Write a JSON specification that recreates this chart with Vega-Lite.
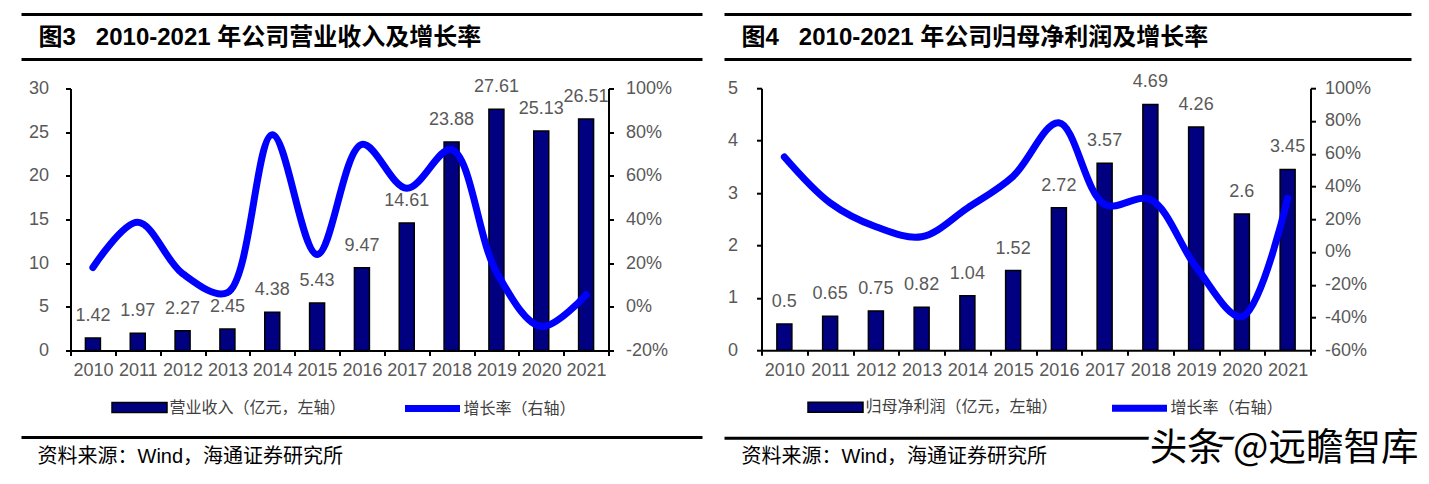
{
  "$schema": "https://vega.github.io/schema/vega-lite/v6.json",
  "padding": {"left": 19.5, "top": 12.5, "right": 0, "bottom": 0},
  "background": "white",
  "config": {
    "view": {"stroke": null},
    "font": "Liberation Sans",
    "axis": {"grid": false, "domainColor": "black", "domainWidth": 2, "tickColor": "black", "tickWidth": 2, "tickSize": 5, "labelFont": "Liberation Sans", "labelFontSize": 18, "labelColor": "#595959", "title": null},
    "legend": {"labelLimit": 500}
  },
  "datasets": {
    "rev": [
      {"year": "2010", "rev": 1.42, "g": 0.18},
      {"year": "2011", "rev": 1.97, "g": 0.387},
      {"year": "2012", "rev": 2.27, "g": 0.152},
      {"year": "2013", "rev": 2.45, "g": 0.065},
      {"year": "2014", "rev": 4.38, "g": 0.788},
      {"year": "2015", "rev": 5.43, "g": 0.24},
      {"year": "2016", "rev": 9.47, "g": 0.744},
      {"year": "2017", "rev": 14.61, "g": 0.543},
      {"year": "2018", "rev": 23.88, "g": 0.72},
      {"year": "2019", "rev": 27.61, "g": 0.16},
      {"year": "2020", "rev": 25.13, "g": -0.09},
      {"year": "2021", "rev": 26.51, "g": 0.055}
    ],
    "np": [
      {"year": "2010", "np": 0.5, "g": 0.58},
      {"year": "2011", "np": 0.65, "g": 0.30},
      {"year": "2012", "np": 0.75, "g": 0.154},
      {"year": "2013", "np": 0.82, "g": 0.093},
      {"year": "2014", "np": 1.04, "g": 0.268},
      {"year": "2015", "np": 1.52, "g": 0.462},
      {"year": "2016", "np": 2.72, "g": 0.789},
      {"year": "2017", "np": 3.57, "g": 0.29},
      {"year": "2018", "np": 4.69, "g": 0.32},
      {"year": "2019", "np": 4.26, "g": -0.092},
      {"year": "2020", "np": 2.6, "g": -0.395},
      {"year": "2021", "np": 3.45, "g": 0.327}
    ],
    "headL": [{"title": "图3\u00a0\u00a0\u00a02010-2021 年公司营业收入及增长率"}],
    "headR": [{"title": "图4\u00a0\u00a0\u00a02010-2021 年公司归母净利润及增长率"}],
    "footL": [{"src": "资料来源：Wind，海通证券研究所"}],
    "footR": [{"src": "资料来源：Wind，海通证券研究所", "wm": "头条 @远瞻智库"}]
  },
  "spacing": 18,
  "resolve": {"scale": {"fill": "independent", "stroke": "independent"}},
  "hconcat": [
    {
      "spacing": 12,
      "resolve": {"scale": {"fill": "independent", "stroke": "independent"}},
      "vconcat": [
        {
          "width": 538, "height": 50.9,
          "data": {"name": "headL"},
          "encoding": {
            "x": {"datum": -49, "type": "quantitative", "scale": {"domain": [0, 538], "nice": false, "zero": false}, "axis": null},
            "y": {"datum": 0, "type": "quantitative", "scale": {"domain": [0, 50.9], "reverse": true, "nice": false, "zero": false}, "axis": null}
          },
          "layer": [
            {"mark": {"type": "rule", "color": "black", "strokeWidth": 3},
             "encoding": {"x2": {"datum": 632}}},
            {"mark": {"type": "rule", "color": "black", "strokeWidth": 3},
             "encoding": {"x2": {"datum": 632}, "y": {"datum": 45, "type": "quantitative"}}},
            {"mark": {"type": "text", "align": "left", "baseline": "middle", "font": "Liberation Sans, Noto Sans CJK SC", "fontSize": 24, "fontWeight": "bold", "color": "black"},
             "encoding": {"x": {"datum": -32, "type": "quantitative"}, "y": {"datum": 23.5, "type": "quantitative"}, "text": {"field": "title"}}}
          ]
        },
        {
          "width": 538, "height": 262,
          "data": {"name": "rev"},
          "encoding": {"x": {"field": "year", "type": "ordinal", "scale": {"paddingInner": 0, "paddingOuter": 0}, "axis": {"labelAngle": 0, "tickBand": "extent", "labelPadding": 6}}},
          "layer": [
            {
              "layer": [
                {"mark": {"type": "bar", "size": 15, "stroke": "black", "strokeWidth": 1.5},
                 "encoding": {
                   "y": {"field": "rev", "type": "quantitative", "scale": {"domain": [0, 30], "nice": false}, "axis": {"values": [0, 5, 10, 15, 20, 25, 30], "labelPadding": 17, "minExtent": 50.5, "maxExtent": 50.5}},
                   "fill": {"datum": "营业收入（亿元，左轴）", "scale": {"range": ["#000080"]},
                            "legend": {"orient": "none", "legendX": 61, "legendY": 311, "title": null, "padding": 0, "symbolType": "M-5,-0.9H5V0.9H-5Z", "symbolSize": 121, "symbolStrokeColor": "black", "symbolStrokeWidth": 1.5, "symbolOpacity": 1, "labelOffset": 22, "labelFont": "Noto Sans CJK SC", "labelFontSize": 16, "labelColor": "#404040"}}
                 }},
                {"mark": {"type": "text", "dy": -22, "baseline": "middle", "fontSize": 18, "font": "Liberation Sans", "color": "#595959"},
                 "encoding": {"y": {"field": "rev", "type": "quantitative"}, "text": {"field": "rev", "type": "quantitative"}}}
              ]
            },
            {"mark": {"type": "line", "strokeWidth": 7, "interpolate": "catmull-rom", "strokeCap": "round", "strokeJoin": "round"},
             "encoding": {
               "y": {"field": "g", "type": "quantitative", "scale": {"domain": [-0.2, 1], "nice": false, "zero": false}, "axis": {"orient": "right", "values": [-0.2, 0, 0.2, 0.4, 0.6, 0.8, 1], "labelExpr": "round(datum.value*100) + '%'", "labelPadding": 12, "minExtent": 63, "maxExtent": 63}},
               "stroke": {"datum": "增长率（右轴）", "scale": {"range": ["#0000FF"]},
                          "legend": {"orient": "none", "legendX": 353, "legendY": 311, "title": null, "padding": 0, "symbolType": "M-5,0H5", "symbolSize": 121, "symbolStrokeWidth": 7, "labelOffset": 22, "labelFont": "Noto Sans CJK SC", "labelFontSize": 16, "labelColor": "#404040"}}
             }}
          ],
          "resolve": {"scale": {"y": "independent"}}
        },
        {
          "width": 538, "height": 50,
          "data": {"name": "footL"},
          "encoding": {
            "x": {"datum": -49, "type": "quantitative", "scale": {"domain": [0, 538], "nice": false, "zero": false}, "axis": null},
            "y": {"datum": 3, "type": "quantitative", "scale": {"domain": [0, 50], "reverse": true, "nice": false, "zero": false}, "axis": null}
          },
          "layer": [
            {"mark": {"type": "rule", "color": "black", "strokeWidth": 3},
             "encoding": {"x2": {"datum": 632}}},
            {"mark": {"type": "text", "align": "left", "baseline": "middle", "font": "Liberation Sans, Noto Sans CJK SC", "fontSize": 20, "color": "black"},
             "encoding": {"x": {"datum": -33, "type": "quantitative"}, "y": {"datum": 22, "type": "quantitative"}, "text": {"field": "src"}}}
          ]
        }
      ]
    },
    {
      "spacing": 7.7,
      "resolve": {"scale": {"fill": "independent", "stroke": "independent"}},
      "vconcat": [
        {
          "width": 549, "height": 50.5,
          "data": {"name": "headR"},
          "encoding": {
            "x": {"datum": -37, "type": "quantitative", "scale": {"domain": [0, 549], "nice": false, "zero": false}, "axis": null},
            "y": {"datum": 0, "type": "quantitative", "scale": {"domain": [0, 50.5], "reverse": true, "nice": false, "zero": false}, "axis": null}
          },
          "layer": [
            {"mark": {"type": "rule", "color": "black", "strokeWidth": 3},
             "encoding": {"x2": {"datum": 650}}},
            {"mark": {"type": "rule", "color": "black", "strokeWidth": 3},
             "encoding": {"x2": {"datum": 650}, "y": {"datum": 45, "type": "quantitative"}}},
            {"mark": {"type": "text", "align": "left", "baseline": "middle", "font": "Liberation Sans, Noto Sans CJK SC", "fontSize": 24, "fontWeight": "bold", "color": "black"},
             "encoding": {"x": {"datum": -20, "type": "quantitative"}, "y": {"datum": 23.5, "type": "quantitative"}, "text": {"field": "title"}}}
          ]
        },
        {
          "width": 549, "height": 262,
          "data": {"name": "np"},
          "encoding": {"x": {"field": "year", "type": "ordinal", "scale": {"paddingInner": 0, "paddingOuter": 0}, "axis": {"labelAngle": 0, "tickBand": "extent", "labelPadding": 6}}},
          "layer": [
            {
              "layer": [
                {"mark": {"type": "bar", "size": 15, "stroke": "black", "strokeWidth": 1.5},
                 "encoding": {
                   "y": {"field": "np", "type": "quantitative", "scale": {"domain": [0, 5], "nice": false}, "axis": {"values": [0, 1, 2, 3, 4, 5], "labelPadding": 19, "minExtent": 38.5, "maxExtent": 38.5}},
                   "fill": {"datum": "归母净利润（亿元，左轴）", "scale": {"range": ["#000080"]},
                            "legend": {"orient": "none", "legendX": 66, "legendY": 311, "title": null, "padding": 0, "symbolType": "M-5,-0.9H5V0.9H-5Z", "symbolSize": 121, "symbolStrokeColor": "black", "symbolStrokeWidth": 1.5, "symbolOpacity": 1, "labelOffset": 22, "labelFont": "Noto Sans CJK SC", "labelFontSize": 16, "labelColor": "#404040"}}
                 }},
                {"mark": {"type": "text", "dy": -22, "baseline": "middle", "fontSize": 18, "font": "Liberation Sans", "color": "#595959"},
                 "encoding": {"y": {"field": "np", "type": "quantitative"}, "text": {"field": "np", "type": "quantitative"}}}
              ]
            },
            {"mark": {"type": "line", "strokeWidth": 7, "interpolate": "catmull-rom", "strokeCap": "round", "strokeJoin": "round"},
             "encoding": {
               "y": {"field": "g", "type": "quantitative", "scale": {"domain": [-0.6, 1], "nice": false, "zero": false}, "axis": {"orient": "right", "values": [-0.6, -0.4, -0.2, 0, 0.2, 0.4, 0.6, 0.8, 1], "labelExpr": "round(datum.value*100) + '%'", "labelPadding": 9}},
               "stroke": {"datum": "增长率（右轴）", "scale": {"range": ["#0000FF"]},
                          "legend": {"orient": "none", "legendX": 369, "legendY": 311, "title": null, "padding": 0, "symbolType": "M-5,0H5", "symbolSize": 121, "symbolStrokeWidth": 7, "labelOffset": 22, "labelFont": "Noto Sans CJK SC", "labelFontSize": 16, "labelColor": "#404040"}}
             }}
          ],
          "resolve": {"scale": {"y": "independent"}}
        },
        {
          "width": 549, "height": 54.3,
          "data": {"name": "footR"},
          "encoding": {
            "x": {"datum": -37, "type": "quantitative", "scale": {"domain": [0, 549], "nice": false, "zero": false}, "axis": null},
            "y": {"datum": 7.3, "type": "quantitative", "scale": {"domain": [0, 54.3], "reverse": true, "nice": false, "zero": false}, "axis": null}
          },
          "layer": [
            {"mark": {"type": "rule", "color": "black", "strokeWidth": 3},
             "encoding": {"x2": {"datum": 650}}},
            {"mark": {"type": "text", "align": "left", "baseline": "middle", "font": "Liberation Sans, Noto Sans CJK SC", "fontSize": 20, "color": "black"},
             "encoding": {"x": {"datum": -20, "type": "quantitative"}, "y": {"datum": 26.3, "type": "quantitative"}, "text": {"field": "src"}}},
            {"mark": {"type": "text", "align": "right", "baseline": "middle", "font": "Noto Sans CJK SC", "fontSize": 37.5, "fill": "white", "stroke": "white", "strokeWidth": 10, "strokeJoin": "round"},
             "encoding": {"x": {"datum": 657, "type": "quantitative"}, "y": {"datum": 18.3, "type": "quantitative"}, "text": {"field": "wm"}}},
            {"mark": {"type": "text", "align": "right", "baseline": "middle", "font": "Noto Sans CJK SC", "fontSize": 37.5, "fill": "black"},
             "encoding": {"x": {"datum": 657, "type": "quantitative"}, "y": {"datum": 18.3, "type": "quantitative"}, "text": {"field": "wm"}}}
          ]
        }
      ]
    }
  ]
}
